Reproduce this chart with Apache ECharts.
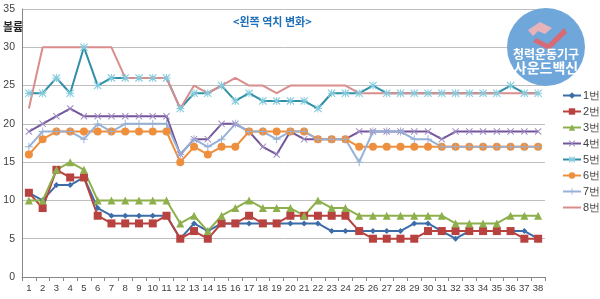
<!DOCTYPE html>
<html>
<head>
<meta charset="UTF-8">
<title></title>
<script src="https://cdn.jsdelivr.net/npm/echarts@6/dist/echarts.min.js"></script>
<style type="text/css">
	*{margin:0;padding:0;}
	body{background:#fff;}
	#main{width:600px;height:299px;}
</style>
</head>
<body>
<div id="main"></div>
<script type="text/javascript">
// 회차 1~38
var days = [];
for (var d = 1; d <= 38; d++) days.push(String(d));

var s1 = [11,10,12,12,13,9,8,8,8,8,8,5,7,6,7,7,7,7,7,7,7,7,6,6,6,6,6,6,7,7,6,5,6,6,6,6,6,5];
var s2 = [11,9,14,13,13,8,7,7,7,7,8,5,6,5,7,7,8,7,7,8,8,8,8,8,6,5,5,5,5,6,6,6,6,6,6,6,5,5];
var s3 = [10,10,14,15,14,10,10,10,10,10,10,7,8,6,8,9,10,9,9,9,8,10,9,9,8,8,8,8,8,8,8,7,7,7,7,8,8,8];
var s4 = [19,20,21,22,21,21,21,21,21,21,21,16,18,18,20,20,19,17,16,19,18,18,18,18,19,19,19,19,19,19,18,19,19,19,19,19,19,19];
var s5 = [24,24,26,24,30,25,26,26,26,26,26,22,24,24,25,23,24,23,23,23,23,22,24,24,24,25,24,24,24,24,24,24,24,24,24,25,24,24];
var s6 = [16,18,19,19,19,19,19,19,19,19,19,15,17,16,17,17,19,19,19,19,19,18,18,18,17,17,17,17,17,17,17,17,17,17,17,17,17,17];
var s7 = [17,19,19,19,18,20,19,20,20,20,20,16,18,17,18,20,19,19,18,19,19,18,18,18,15,19,19,19,18,18,17,17,17,17,17,17,17,17];
var s8 = [22,30,30,30,30,30,30,26,26,26,26,22,25,24,25,26,25,25,24,25,25,25,25,25,24,24,24,24,24,24,24,24,24,24,24,24,24,24];

var names = ['1번','2번','3번','4번','5번','6번','7번','8번'];
var yTicks = [0,5,10,15,20,25,30,35];

var xMark = 'path://M1,0L5,4L9,0L10,1L6,5L10,9L9,10L5,6L1,10L0,9L4,5L0,1Z';
var plusMark = 'path://M4.4,0H5.6V4.4H10V5.6H5.6V10H4.4V5.6H0V4.4H4.4Z';
var starMark = 'path://M4.4,0H5.6V10H4.4Z M0,4.4H10V5.6H0Z M1,0L5,4L9,0L10,1L6,5L10,9L9,10L5,6L1,10L0,9L4,5L0,1Z';
// 8번 범례: 마커 없이 선만
var plainLine = 'path://M0,0H0.01V0.01H0Z M0,3.1H18V4.9H0Z M0,7.99H0.01V8H0Z';

function line(name, data, lineColor, markColor, symbol, size){
	return {
		name: name,
		type: 'line',
		data: data,
		symbol: symbol,
		symbolSize: size,
		showSymbol: symbol !== 'none',
		lineStyle: {color: lineColor, width: 2},
		itemStyle: {color: markColor},
		emphasis: {disabled: true},
		z: 2
	};
}

var legendData = names.map(function(n, i){
	return i === 7 ? {
		name: n, icon: plainLine,
		itemStyle: {color: '#D98D8C', borderColor: '#D98D8C', borderWidth: 0}
	} : {name: n};
});

var myChart = echarts.init(document.getElementById('main'));
var option = {
	backgroundColor: '#fff',
	animation: false,
	grid: {left: 22, right: 55, top: 9, bottom: 22},
	legend: {
		orient: 'vertical',
		left: 557,
		top: 85,
		itemGap: 5,
		itemWidth: 18,
		itemHeight: 8,
		textStyle: {fontSize: 11, color: '#404040', padding: [0, 0, 0, -3]},
		data: legendData
	},
	xAxis: {
		type: 'category',
		data: days,
		boundaryGap: true,
		axisLine: {lineStyle: {color: '#868686', width: 1}},
		axisTick: {show: true, length: 4, lineStyle: {color: '#868686'}},
		axisLabel: {interval: 0, fontSize: 9.5, color: '#404040', margin: 6}
	},
	yAxis: {
		type: 'value',
		min: yTicks[0],
		max: yTicks[yTicks.length - 1],
		interval: 5,
		axisLine: {show: true, lineStyle: {color: '#868686', width: 1}},
		axisTick: {show: false},
		axisLabel: {fontSize: 10.5, color: '#404040', margin: 7},
		splitLine: {lineStyle: {color: '#BFBFBF', width: 1}}
	},
	graphic: [
		{type: 'text', left: 3, top: 21, style: {text: '볼륨', font: 'bold 11px "Noto Sans CJK KR"', fill: '#262626'}},
		{type: 'text', left: 233, top: 16, style: {text: '<왼쪽 역치 변화>', font: 'bold 11px "Noto Sans CJK KR"', fill: '#1F70B8'}},
		{type: 'circle', shape: {cx: 546, cy: 47, r: 39}, style: {fill: '#6FA7DA'}, z: 10},
		{type: 'polygon', shape: {points: [[528,30],[540,22],[552,28],[545,34],[538,31],[533,36]]}, style: {fill: '#E8B3B8'}, z: 11},
		{type: 'polygon', shape: {points: [[536,38],[548,44],[564,28],[567,33],[549,50],[533,42]]}, style: {fill: '#D66B75'}, z: 11},
		{type: 'text', x: 546, y: 54, style: {text: '청력운동기구', font: 'bold 12px "Noto Sans CJK KR"', fill: '#fff', align: 'center', verticalAlign: 'middle'}, z: 11},
		{type: 'text', x: 546, y: 68, style: {text: '사운드백신', font: 'bold 14px "Noto Sans CJK KR"', fill: '#fff', align: 'center', verticalAlign: 'middle'}, z: 11}
	],
	series: [
		line(names[0], s1, '#3C6DA8', '#3C6DA8', 'diamond', 6),
		line(names[1], s2, '#B8423F', '#B8423F', 'rect', 8),
		line(names[2], s3, '#8DB04C', '#8DB04C', 'triangle', 8),
		line(names[3], s4, '#73569A', '#A08CC4', xMark, 7),
		line(names[4], s5, '#2F8FA6', '#84CBDD', starMark, 8),
		line(names[5], s6, '#EE8F3E', '#EE8F3E', 'circle', 8),
		line(names[6], s7, '#98B1D6', '#98B1D6', plusMark, 8),
		line(names[7], s8, '#D98D8C', '#D98D8C', 'none', 0)
	]
};
myChart.setOption(option);
</script>
</body>
</html>
